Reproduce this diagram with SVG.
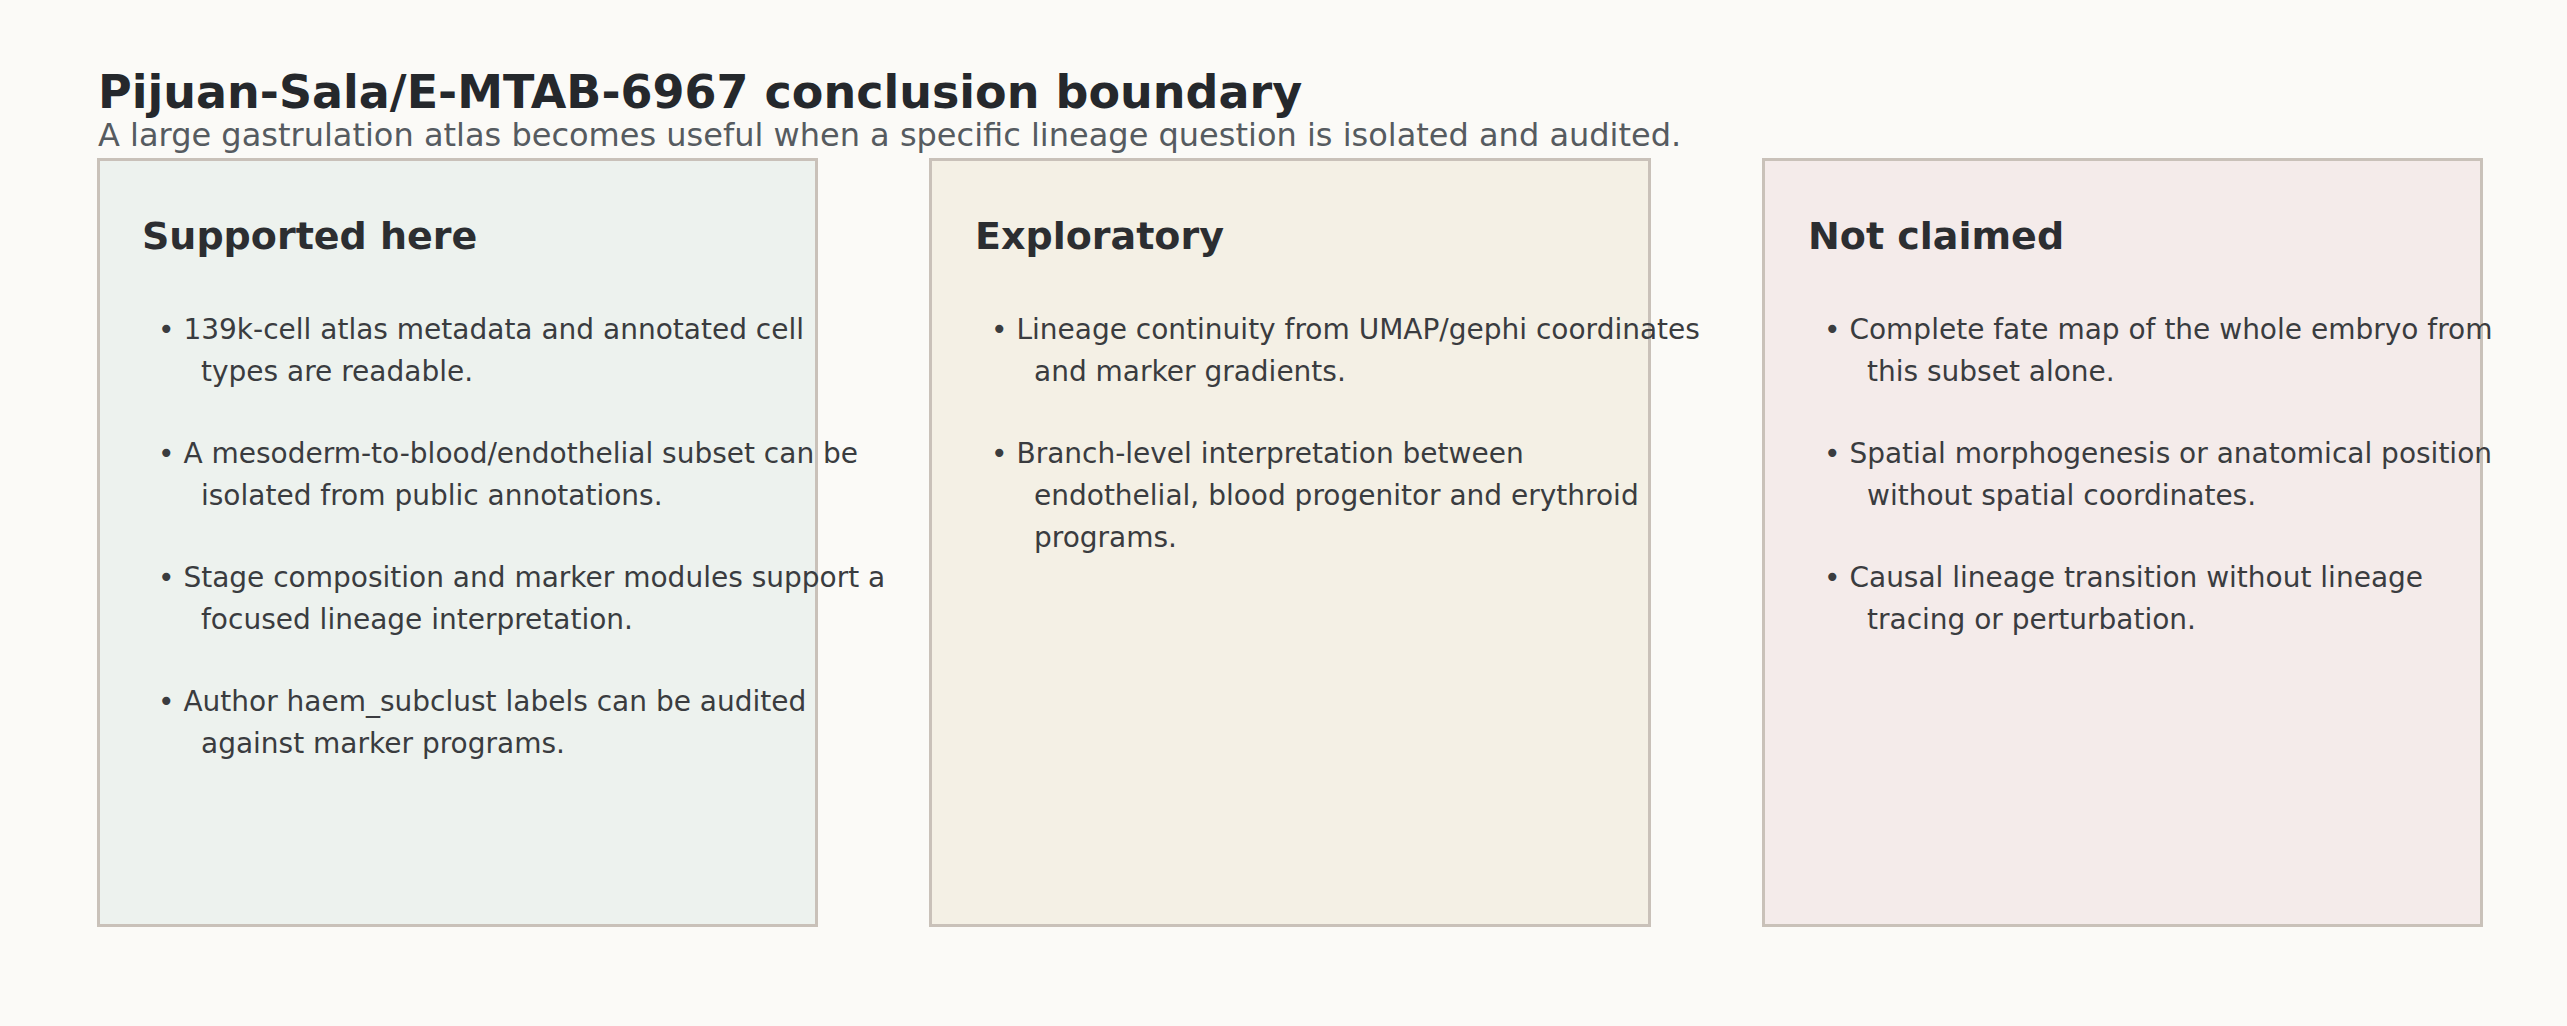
<svg xmlns="http://www.w3.org/2000/svg" width="2567" height="1026" viewBox="0 0 2567 1026">
<style>
.title{font-family:"DejaVu Sans",sans-serif;font-weight:bold;font-size:46px;fill:#25282c}
.sub{font-family:"DejaVu Sans",sans-serif;font-size:32px;fill:#565b60}
.head{font-family:"DejaVu Sans",sans-serif;font-weight:bold;font-size:38px;fill:#2c2e31}
.body{font-family:"DejaVu Sans",sans-serif;font-size:28px;fill:#3a3c3f}
.box{stroke:#c9c1b9;stroke-width:3}
</style>
<rect width="2567" height="1026" fill="#fbfaf7"/>
<text class="title" x="98" y="108">Pijuan-Sala/E-MTAB-6967 conclusion boundary</text>
<text class="sub" x="98" y="146">A large gastrulation atlas becomes useful when a specific lineage question is isolated and audited.</text>
<g id="supported">
<rect class="box" x="98.5" y="159.5" width="718" height="766" fill="#edf2ee"/>
<text class="head" x="142" y="249">Supported here</text>
<text class="body"><tspan x="158" y="339">• 139k-cell atlas metadata and annotated cell</tspan><tspan x="201" y="381">types are readable.</tspan><tspan x="158" y="463">• A mesoderm-to-blood/endothelial subset can be</tspan><tspan x="201" y="505">isolated from public annotations.</tspan><tspan x="158" y="587">• Stage composition and marker modules support a</tspan><tspan x="201" y="629">focused lineage interpretation.</tspan><tspan x="158" y="711">• Author haem_subclust labels can be audited</tspan><tspan x="201" y="753">against marker programs.</tspan></text>
</g>
<g id="exploratory">
<rect class="box" x="930.5" y="159.5" width="719" height="766" fill="#f4f0e5"/>
<text class="head" x="975" y="249">Exploratory</text>
<text class="body"><tspan x="991" y="339">• Lineage continuity from UMAP/gephi coordinates</tspan><tspan x="1034" y="381">and marker gradients.</tspan><tspan x="991" y="463">• Branch-level interpretation between</tspan><tspan x="1034" y="505">endothelial, blood progenitor and erythroid</tspan><tspan x="1034" y="547">programs.</tspan></text>
</g>
<g id="notclaimed">
<rect class="box" x="1763.5" y="159.5" width="718" height="766" fill="#f4ebea"/>
<text class="head" x="1808" y="249">Not claimed</text>
<text class="body"><tspan x="1824" y="339">• Complete fate map of the whole embryo from</tspan><tspan x="1867" y="381">this subset alone.</tspan><tspan x="1824" y="463">• Spatial morphogenesis or anatomical position</tspan><tspan x="1867" y="505">without spatial coordinates.</tspan><tspan x="1824" y="587">• Causal lineage transition without lineage</tspan><tspan x="1867" y="629">tracing or perturbation.</tspan></text>
</g>
<g id="connectors"/>
</svg>
